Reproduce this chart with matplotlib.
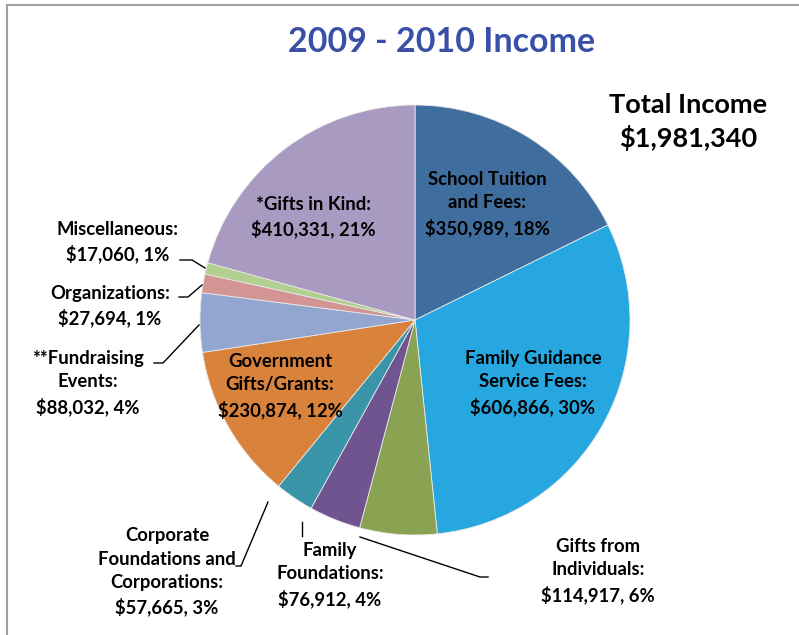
import matplotlib
matplotlib.use("Agg")
import matplotlib.pyplot as plt

W, H = 799, 635

categories = [
    "School Tuition\nand Fees:",
    "Family Guidance\nService Fees:",
    "Gifts from\nIndividuals:",
    "Family\nFoundations:",
    "Corporate\nFoundations and\nCorporations:",
    "Government\nGifts/Grants:",
    "**Fundraising\nEvents:",
    "Organizations:",
    "Miscellaneous:",
    "*Gifts in Kind:",
]
values = [350989, 606866, 114917, 76912, 57665, 230874, 88032, 27694, 17060, 410331]
percents = [18, 30, 6, 4, 3, 12, 4, 1, 1, 21]
colors = ["#3E6D9E", "#27A7E0", "#8AA352", "#6F5490", "#3B95A8",
          "#D9823C", "#92A6CF", "#D39494", "#B3CF90", "#A89AC0"]

total = sum(values)

plt.rcParams["font.family"] = ["Lato", "DejaVu Sans"]


def Y(y):
    # pixel row from top -> data y
    return H - y


fig = plt.figure(figsize=(W / 100, H / 100), dpi=100)
ax = fig.add_axes([0, 0, 1, 1])

ax.pie(values, colors=colors, startangle=90, counterclock=False,
       center=(415, Y(320)), radius=215,
       wedgeprops=dict(edgecolor="#e8e8e8", linewidth=0.6))

ax.set_xlim(0, W)
ax.set_ylim(0, H)
ax.set_aspect("equal")
ax.axis("off")

# label block centres in pixels
label_pos = [(487, 204), (533, 383), (598, 571), (330, 575), (167, 572),
             (280, 386), (88, 383), (110, 306), (118, 242), (313, 217)]

for name, v, pct, (px, py) in zip(categories, values, percents, label_pos):
    txt = f"{name}\n${v:,}, {pct}%"
    ax.text(px, Y(py), txt, ha="center", va="center", fontsize=13.3,
            fontweight="bold", color="black", linespacing=1.45)

# leader lines
leaders = [
    [(180, 260), (192, 260), (205, 268)],
    [(179, 297), (188, 297), (202, 285)],
    [(154, 363), (163, 363), (199, 325)],
    [(236, 566), (241, 566), (268, 502)],
    [(302, 522), (302, 536)],
    [(360, 537), (480, 577), (488, 577)],
]
for pts in leaders:
    ax.plot([p[0] for p in pts], [Y(p[1]) for p in pts], color="black", lw=1)

ax.text(442, Y(42), "2009 - 2010 Income", ha="center", va="center",
        fontsize=24.5, fontweight="bold", color="#3950A6")
ax.text(688, Y(122), f"Total Income\n${total:,}", ha="center", va="center",
        fontsize=19.5, fontweight="bold", color="black", linespacing=1.4)

# chart area border (top and left)
ax.plot([7, W], [Y(5), Y(5)], color="#A0A0A0", lw=1.5)
ax.plot([7, 7], [Y(5), 0], color="#A0A0A0", lw=1.5)

fig.savefig("out.png", dpi=100)
